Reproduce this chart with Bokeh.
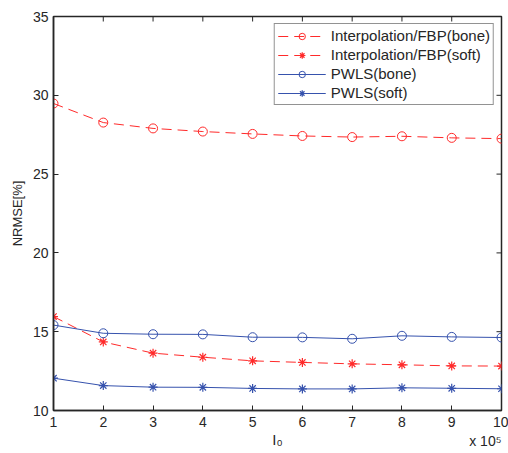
import math
from bokeh.plotting import figure
from bokeh.models import Title, Legend, LegendItem, FixedTicker
from bokeh.embed import file_html
from bokeh.resources import INLINE

i0 = [1, 2, 3, 4, 5, 6, 7, 8, 9, 10]
interp_bone = [29.48, 28.27, 27.9, 27.7, 27.55, 27.42, 27.35, 27.4, 27.3, 27.25]
interp_soft = [15.96, 14.35, 13.64, 13.38, 13.15, 13.05, 12.96, 12.9, 12.83, 12.82]
pwls_bone = [15.42, 14.9, 14.84, 14.83, 14.65, 14.64, 14.55, 14.74, 14.67, 14.63]
pwls_soft = [12.05, 11.58, 11.48, 11.47, 11.4, 11.37, 11.37, 11.44, 11.41, 11.38]
y_ticks = [10, 15, 20, 25, 30, 35]

RED = "#ff2a2a"
BLUE = "#3652ad"
INK = "#262626"
FONT = "Liberation Sans"

p = figure(width=508, height=453, output_backend="svg", toolbar_location=None,
           x_range=(1, 10), y_range=(10, 35),
           min_border_left=53, min_border_right=7, min_border_top=16, min_border_bottom=43)
p.grid.visible = False
p.outline_line_color = INK
p.outline_line_width = 1.5

for ax in [p.xaxis[0], p.yaxis[0]]:
    ax.major_tick_in = 5
    ax.major_tick_out = 0
    ax.minor_tick_in = 0
    ax.minor_tick_out = 0
    ax.axis_line_color = INK
    ax.axis_line_width = 1.5
    ax.major_tick_line_color = INK
    ax.major_label_text_font = FONT
    ax.major_label_text_font_size = "14px"
    ax.major_label_text_color = INK
    ax.axis_label_text_font = FONT
    ax.axis_label_text_font_style = "normal"
    ax.axis_label_text_color = INK

p.xaxis.ticker = FixedTicker(ticks=i0)
p.yaxis.ticker = FixedTicker(ticks=y_ticks)
p.xaxis.major_label_standoff = 6
p.yaxis.major_label_standoff = 5
p.xaxis.axis_label = "I\u2080"
p.xaxis.axis_label_text_font_size = "15px"
p.xaxis.axis_label_standoff = 1
p.yaxis.axis_label = "NRMSE[%]"
p.yaxis.axis_label_text_font_size = "13px"
p.yaxis.axis_label_standoff = 5

# box ticks on the top and right edges (MATLAB "box on")
p.ray(x=i0, y=[35] * len(i0), length=5, length_units="screen", angle=-math.pi / 2,
      line_color=INK, line_width=1)
p.ray(x=[10] * len(y_ticks), y=y_ticks, length=5, length_units="screen", angle=math.pi,
      line_color=INK, line_width=1)

r1l = p.line(i0, interp_bone, line_color=RED, line_width=1, line_dash="10 6")
r1m = p.scatter(i0, interp_bone, marker="circle", size=9, fill_color=None, line_color=RED, line_width=1)
r2l = p.line(i0, interp_soft, line_color=RED, line_width=1, line_dash="10 6")
r2m = p.scatter(i0, interp_soft, marker="asterisk", size=9, line_color=RED, line_width=1.2)
r3l = p.line(i0, pwls_bone, line_color=BLUE, line_width=1)
r3m = p.scatter(i0, pwls_bone, marker="circle", size=9, fill_color=None, line_color=BLUE, line_width=1)
r4l = p.line(i0, pwls_soft, line_color=BLUE, line_width=1)
r4m = p.scatter(i0, pwls_soft, marker="asterisk", size=9, line_color=BLUE, line_width=1.2)

legend = Legend(items=[
    LegendItem(label="Interpolation/FBP(bone)", renderers=[r1l, r1m]),
    LegendItem(label="Interpolation/FBP(soft)", renderers=[r2l, r2m]),
    LegendItem(label="PWLS(bone)", renderers=[r3l, r3m]),
    LegendItem(label="PWLS(soft)", renderers=[r4l, r4m]),
], location="top_right")
legend.margin = 7
legend.padding = 3
legend.spacing = 2
legend.glyph_width = 48
legend.glyph_height = 16
legend.label_height = 16
legend.label_standoff = 5
legend.label_text_font = FONT
legend.label_text_font_size = "15px"
legend.label_text_color = INK
legend.border_line_color = INK
legend.border_line_width = 1
legend.background_fill_alpha = 1
p.add_layout(legend, "center")

mult = Title(text="x 10\u2075", align="right", vertical_align="top", standoff=-36,
             text_font=FONT, text_font_size="14px", text_font_style="normal",
             text_color=INK)
p.add_layout(mult, "below")

open("out.html", "w").write(file_html(p, INLINE))
